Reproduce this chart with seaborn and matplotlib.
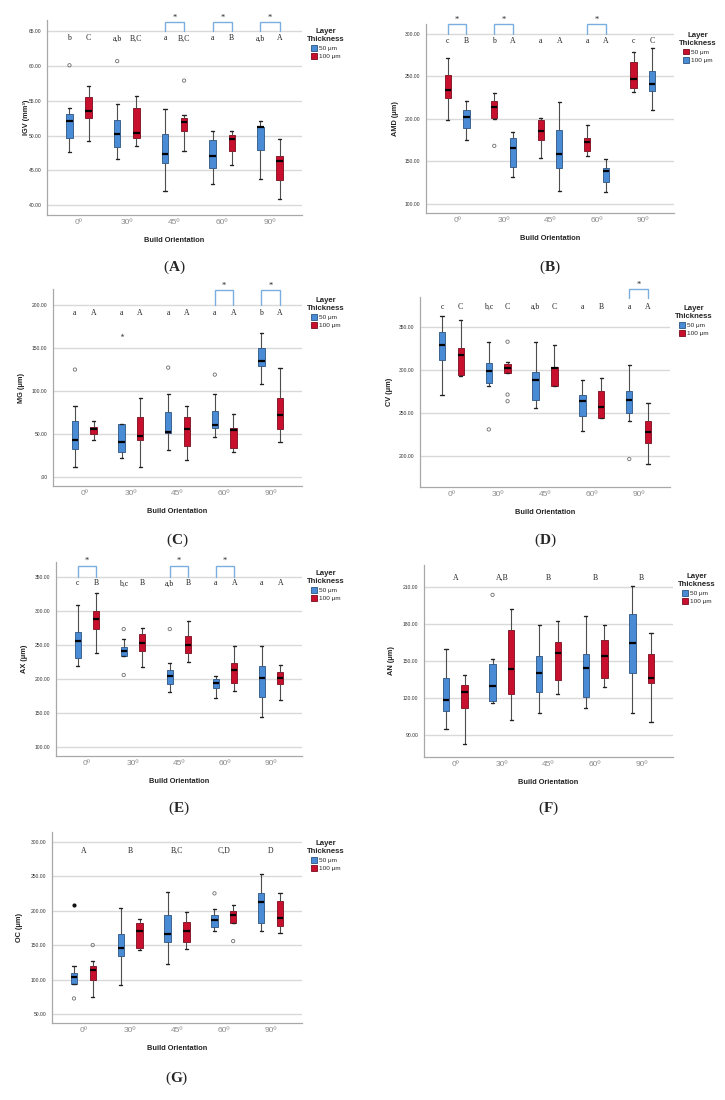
import matplotlib
matplotlib.use("Agg")
import numpy as np
import pandas as pd
import seaborn as sns
import matplotlib.pyplot as plt
from matplotlib.patches import Patch
import matplotlib.colors as mcolors

W, H = 725, 1100

orientations = ["0º", "30º", "45º", "60º", "90º"]
thickness = ["50 μm", "100 μm"]

# five-number summaries: [whisker low, Q1, median, Q3, whisker high]
igv_50 = [[47.6, 49.7, 52.1, 53.05, 53.9], [46.7, 48.4, 50.3, 52.3, 54.6], [42.1, 46.0, 47.3, 50.3, 53.8],
          [43.0, 45.3, 47.1, 49.3, 50.7], [43.7, 47.9, 51.2, 51.3, 52.1]]
igv_100 = [[49.2, 52.6, 53.5, 55.6, 57.1], [48.5, 49.7, 50.4, 54.0, 55.7], [47.8, 50.7, 51.9, 52.6, 53.0],
           [45.8, 47.8, 49.5, 50.1, 50.6], [40.9, 43.6, 46.4, 47.1, 49.5]]
igv_out_50 = [[60.1], [60.7], [], [], []]
igv_out_100 = [[], [], [57.9], [], []]

amd_50 = [[199, 224.9, 233.9, 251.9, 271], [200, 200.2, 213.9, 221.3, 230.7], [153.6, 174.8, 185.3, 198, 200.2],
          [156, 161.4, 172, 177.1, 192.4], [231.1, 236.6, 247.2, 267.1, 278.9]]
amd_100 = [[175, 188.9, 202, 210, 221.3], [131.3, 142.7, 165.8, 177, 184.5], [115.3, 142.3, 157.9, 186.5, 219.4],
           [113.7, 125, 138.7, 142.3, 152], [210.4, 232.7, 240.5, 255.8, 282.8]]
amd_out_50 = [[], [168], [], [], []]
amd_out_100 = [[], [], [], [], []]

mg_50 = [[11.3, 32.6, 42.3, 65.2, 82.3], [21.4, 28.7, 40.4, 61.4, 61.4], [30.7, 50.5, 51.7, 75, 95.9],
         [46.2, 56.3, 60.2, 76.9, 95.9], [107.6, 128.9, 134.8, 149.5, 167]]
mg_100 = [[42.7, 50.1, 55.9, 57.5, 65.2], [11.3, 42.3, 47.4, 69.1, 92], [19, 36.1, 55, 69.1, 82.3],
          [29, 33, 54, 57, 73], [40, 55.9, 72.2, 92, 127]]
mg_out_50 = [[124.7], [], [127], [118.8], []]
mg_out_100 = [[], [], [], [], []]
mg_ext_50 = [[], [165], [], [], []]

cv_50 = [[271.5, 312.1, 329.5, 344.2, 362.4], [281.2, 285.1, 298.6, 308.3, 333], [256.1, 265.7, 288.2, 298.2, 333],
         [229, 246.4, 264.2, 271.5, 288.9], [241, 250.3, 265, 275.4, 306.3]]
cv_100 = [[292.8, 294.3, 317.9, 325.3, 358.5], [296.7, 296.7, 302.8, 307.5, 309.4], [281.2, 281.2, 302.5, 303.6, 329.5],
          [244.5, 244.5, 256.5, 275.4, 290.5], [190.7, 215.5, 227.5, 240.2, 261.9]]
cv_out_50 = [[], [231], [], [], [196.5]]
cv_out_100 = [[], [333, 271.5, 263.8], [], [], []]

ax_50 = [[219, 230.7, 255.6, 268.8, 307.8], [233, 234.1, 241, 247.3, 258], [181, 192.2, 204.4, 213.2, 223.4],
         [171.7, 186.8, 193.7, 199.5, 203.9], [144.4, 173.2, 201, 219, 248.3]]
ax_100 = [[238.5, 272.7, 288.3, 299.5, 326.3], [217.1, 240.5, 252.2, 265.4, 274.6], [224.9, 238.5, 250.2, 263.4, 284.4],
          [182.9, 194.1, 212.7, 223.4, 248.3], [169.8, 192.7, 201, 210.2, 220.5]]
ax_out_50 = [[], [273.2, 205.9], [273.2], [], []]
ax_out_100 = [[], [], [], [], []]

an_50 = [[94.9, 109.7, 118.6, 136.8, 159.7], [116, 117.6, 130, 148.1, 152.2], [107.8, 125.1, 140.8, 154.1, 179.5],
         [111.9, 121.4, 144.6, 155.9, 186.8], [108.1, 140.5, 164.6, 188.4, 210.6]]
an_100 = [[83, 111.9, 125.4, 130.8, 138.6], [102.2, 123.2, 143.8, 175.1, 192.4], [123.2, 134.9, 157, 165.4, 182.7],
          [129.2, 136.5, 154.1, 167.3, 179.2], [100.5, 132.7, 136.8, 155.9, 173.2]]
an_out_50 = [[], [203.8], [], [], []]
an_out_100 = [[], [], [], [], []]

oc_50 = [[94.2, 94.2, 103.4, 110.1, 119.2], [92.8, 134.6, 145.7, 165.4, 203.8], [122.1, 153.8, 166.3, 194.2, 227.4],
         [169.7, 176.9, 186.1, 194.2, 202.4], [169.7, 182.7, 212.5, 225, 253.8]]
oc_100 = [[74, 100, 114.4, 119.2, 127.4], [142.3, 145.7, 170.2, 182.2, 188.5], [144.7, 153.8, 170.2, 184.1, 198],
          [182.7, 182.7, 194.2, 200, 208.2], [167.8, 177.4, 188.9, 213.5, 225]]
oc_out_50 = [[72.6], [], [], [225], []]
oc_out_100 = [[150], [], [], [155.8], []]
oc_ext_50 = [[208.2], [], [], [], []]

# significance letters (per box) and group letters
igv_let = (["b", "a,b", "a", "a", "a,b"], ["C", "B,C", "B,C", "B", "A"])
amd_let = (["c", "b", "a", "a", "c"], ["B", "A", "A", "A", "C"])
mg_let = (["a", "a", "a", "a", "b"], ["A", "A", "A", "A", "A"])
cv_let = (["c", "b,c", "a,b", "a", "a"], ["C", "C", "C", "B", "A"])
ax_let = (["c", "b,c", "a,b", "a", "a"], ["B", "B", "B", "A", "A"])
an_let = ["A", "A,B", "B", "B", "B"]
oc_let = ["A", "B", "B,C", "C,D", "D"]

igv_star = ["45º", "60º", "90º"]
amd_star = ["0º", "30º", "60º"]
mg_star = ["60º", "90º"]
cv_star = ["90º"]
ax_star = ["0º", "45º", "60º"]

BLUE = "#4a8bd6"
RED = "#c8102e"

sns.set_theme(style="white")
plt.rcParams["font.family"] = ["Liberation Sans", "DejaVu Sans"]
plt.rcParams["mathtext.fontset"] = "custom"
plt.rcParams["mathtext.rm"] = "Liberation Serif"
plt.rcParams["mathtext.bf"] = "Liberation Serif:bold"


def long_table(series):
    rows = []
    for lvl, stats in zip(thickness, series):
        for cat, vals in zip(orientations, stats):
            for v in vals:
                rows.append((cat, lvl, v))
    return pd.DataFrame(rows, columns=["orientation", "thickness", "value"])


def fmt_tick(v):
    s = f"{v:.2f}"
    return ".00" if v == 0 else s


panels = [
    dict(tag="A", rect=(47, 20, 302, 215), ylabel="IGV (mm³)", box=(igv_50, igv_100), out=(igv_out_50, igv_out_100),
         ext=None, ylim=(38.6, 66.6), yticks=[40, 45, 50, 55, 60, 65], letters=igv_let, stars=igv_star,
         let_y=63.95, br=(65.0, 66.3), pal=[BLUE, RED], ylab_dx=-17, cap_y=267),
    dict(tag="B", rect=(426, 24, 674, 213), ylabel="AMD (μm)", box=(amd_50, amd_100), out=(amd_out_50, amd_out_100),
         ext=None, ylim=(89, 311.4), yticks=[100, 150, 200, 250, 300], letters=amd_let, stars=amd_star,
         let_y=291.4, br=(300, 311.4), pal=[RED, BLUE], ylab_dx=-27, cap_y=267),
    dict(tag="C", rect=(53, 289, 302, 486), ylabel="MG (μm)", box=(mg_50, mg_100), out=(mg_out_50, mg_out_100),
         ext=(mg_ext_50, "*", "#555555"), ylim=(-11, 218.6), yticks=[0, 50, 100, 150, 200], letters=mg_let,
         stars=mg_star, let_y=190.3, br=(200, 217.5), pal=[BLUE, RED], ylab_dx=-28, cap_y=540),
    dict(tag="D", rect=(420, 297, 670, 487), ylabel="CV (μm)", box=(cv_50, cv_100), out=(cv_out_50, cv_out_100),
         ext=None, ylim=(164, 385), yticks=[200, 250, 300, 350], letters=cv_let, stars=cv_star,
         let_y=373.3, br=(383.4, 394.2), pal=[BLUE, RED], ylab_dx=-27, cap_y=540),
    dict(tag="E", rect=(56, 562, 302, 756), ylabel="AX (μm)", box=(ax_50, ax_100), out=(ax_out_50, ax_out_100),
         ext=None, ylim=(87, 371.6), yticks=[100, 150, 200, 250, 300, 350], letters=ax_let, stars=ax_star,
         let_y=340.3, br=(350, 366.2), pal=[BLUE, RED], ylab_dx=-28, cap_y=808),
    dict(tag="F", rect=(424, 565, 673, 757), ylabel="AN (μm)", box=(an_50, an_100), out=(an_out_50, an_out_100),
         ext=None, ylim=(72.4, 228), yticks=[90, 120, 150, 180, 210], letters=an_let, stars=[],
         let_y=217.8, br=None, pal=[BLUE, RED], ylab_dx=-29, cap_y=808),
    dict(tag="G", rect=(52, 832, 302, 1023), ylabel="OC (μm)", box=(oc_50, oc_100), out=(oc_out_50, oc_out_100),
         ext=(oc_ext_50, "o", "#111111"), ylim=(37, 314), yticks=[50, 100, 150, 200, 250, 300], letters=oc_let,
         stars=[], let_y=286.5, br=None, pal=[BLUE, RED], ylab_dx=-29, cap_y=1078),
]

fig = plt.figure(figsize=(W / 100, H / 100), dpi=100)

for p in panels:
    l, t, r, b = p["rect"]
    ax = fig.add_axes([l / W, 1 - b / H, (r - l) / W, (b - t) / H])
    ax.set_axisbelow(True)
    pal = dict(zip(thickness, p["pal"]))

    sns.boxplot(data=long_table(p["box"]), x="orientation", y="value", hue="thickness",
                order=orientations, hue_order=thickness, palette=pal, whis=(0, 100),
                width=0.8, gap=0.66, saturation=1, linecolor="#4d4d4d", linewidth=0.8,
                medianprops={"color": "black", "linewidth": 1.6},
                capprops={"color": "#222222", "linewidth": 1.0},
                legend=False, ax=ax)
    for patch in ax.patches:
        fc = np.array(mcolors.to_rgb(patch.get_facecolor()))
        patch.set_edgecolor(fc * 0.6)
        patch.set_linewidth(0.6)

    n0 = len(ax.collections)
    sns.stripplot(data=long_table(p["out"]), x="orientation", y="value", hue="thickness",
                  order=orientations, hue_order=thickness, palette=pal, dodge=True, jitter=False,
                  size=2.4, linewidth=0.6, legend=False, ax=ax)
    for coll in ax.collections[n0:]:
        coll.set_facecolor("none")
        coll.set_edgecolor("#6e6e6e")

    if p["ext"] is not None:
        ext_vals, mk, col = p["ext"]
        n0 = len(ax.collections)
        sns.stripplot(data=long_table((ext_vals, [[], [], [], [], []])), x="orientation", y="value",
                      hue="thickness", order=orientations, hue_order=thickness, palette=pal,
                      dodge=True, jitter=False, marker=mk, size=3.0, linewidth=0, legend=False, ax=ax)
        for coll in ax.collections[n0:]:
            coll.set_facecolor(col)
            coll.set_edgecolor(col)

    ax.set_xlim(-0.67, 4.67)
    ax.set_ylim(*p["ylim"])
    ax.set_yticks(p["yticks"])
    ax.set_yticklabels([fmt_tick(v) for v in p["yticks"]])
    ax.yaxis.grid(True, color="#d9d9d9", linewidth=1.0)
    ax.xaxis.grid(False)
    ax.tick_params(axis="y", length=0, pad=4, labelsize=3.6, labelcolor="#333333")
    ax.tick_params(axis="x", length=0, pad=3, labelsize=6, labelcolor="#8c8c8c")
    for side in ["top", "right"]:
        ax.spines[side].set_visible(False)
    for side in ["left", "bottom"]:
        ax.spines[side].set_color("#a8a8a8")
        ax.spines[side].set_linewidth(0.9)

    ax.set_xlabel("Build Orientation", fontsize=5.3, fontweight="bold", color="#222222", labelpad=8)
    ax.set_ylabel(p["ylabel"], fontsize=5.3, fontweight="bold", color="#222222")
    ax.yaxis.set_label_coords(p["ylab_dx"] / (r - l), 0.5)

    # letters
    lets = p["letters"]
    if isinstance(lets, tuple):
        for k, (off, row) in enumerate(zip((-0.2, 0.2), lets)):
            for i, s in enumerate(row):
                ax.text(i + off, p["let_y"], s, ha="center", va="center", fontsize=5.6,
                        family="Liberation Serif", color="#222222")
    else:
        for i, s in enumerate(lets):
            ax.text(i, p["let_y"], s, ha="center", va="center", fontsize=5.6,
                    family="Liberation Serif", color="#222222")

    # significance brackets
    if p["br"] is not None:
        y0, y1 = p["br"]
        for cat in p["stars"]:
            i = orientations.index(cat)
            ax.plot([i - 0.2, i - 0.2, i + 0.2, i + 0.2], [y0, y1, y1, y0], color="#7aaee0",
                    linewidth=1.0, clip_on=False, solid_joinstyle="miter")
            ax.annotate("*", xy=(i, y1), xytext=(0, 0.3), textcoords="offset points", ha="center",
                        va="bottom", fontsize=6, family="Liberation Serif", color="#222222",
                        annotation_clip=False)

    handles = [Patch(facecolor=pal[k], edgecolor=np.array(mcolors.to_rgb(pal[k])) * 0.6, linewidth=0.6)
               for k in thickness]
    leg = ax.legend(handles, thickness, title="Layer\nThickness", loc="upper left",
                    bbox_to_anchor=(1.0, 0.985), frameon=False, fontsize=4.6, title_fontsize=5.6,
                    handlelength=0.9, handleheight=0.9, handletextpad=0.4, labelspacing=0.35,
                    borderaxespad=0.4, alignment="center")
    leg.get_title().set_fontweight("bold")
    leg.get_title().set_multialignment("center")

    fig.text((l + r) / 2 / W, 1 - p["cap_y"] / H, r"($\mathbf{%s}$)" % p["tag"], ha="center",
             va="center", fontsize=11, family="Liberation Serif")

fig.savefig("out.png", dpi=100)
